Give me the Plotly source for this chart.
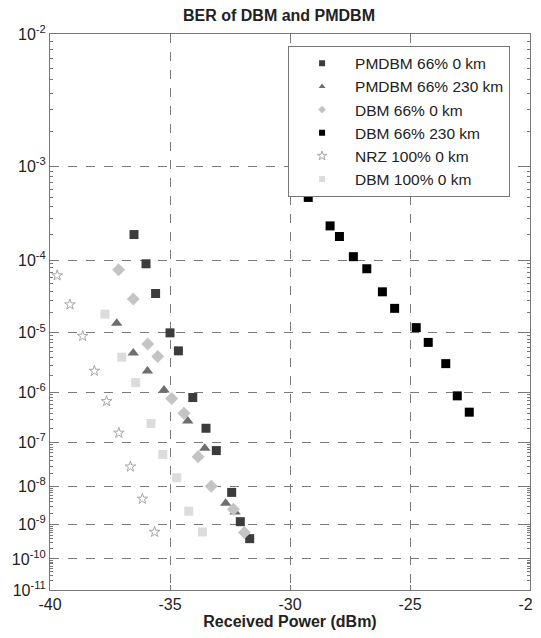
import numpy as np
import plotly.graph_objects as go

# ---- data (received power in dBm, BER) ----
pm66_0_x = [-36.5, -36.0, -35.6, -35.0, -34.65, -34.05, -33.5, -33.07, -32.43, -32.07, -31.68]
pm66_0_y = [2.0e-4, 9.0e-5, 3.7e-5, 1.0e-5, 5.2e-6, 8.0e-7, 2.0e-7, 6.7e-8, 7.0e-9, 1.2e-9, 4.0e-10]

pm66_230_x = [-37.22, -36.53, -35.94, -35.25, -34.26, -33.55, -32.68, -32.29]
pm66_230_y = [1.4e-5, 4.8e-6, 2.4e-6, 1.1e-6, 2.8e-7, 7.5e-8, 3.7e-9, 2.2e-9]

dbm66_0_x = [-37.14, -36.53, -35.93, -35.51, -34.93, -34.42, -33.83, -33.28, -32.36, -31.9]
dbm66_0_y = [7.6e-5, 3.1e-5, 6.7e-6, 4.2e-6, 7.7e-7, 4.0e-7, 4.9e-8, 1.0e-8, 2.6e-9, 6.0e-10]

dbm66_230_x = [-29.24, -28.33, -27.94, -27.36, -26.8, -26.15, -25.64, -24.74, -24.24, -23.51, -23.03, -22.53]
dbm66_230_y = [5.0e-4, 2.5e-4, 1.9e-4, 1.1e-4, 7.8e-5, 3.9e-5, 2.3e-5, 1.2e-5, 7.1e-6, 3.2e-6, 8.6e-7, 4.2e-7]

nrz_x = [-39.7, -39.17, -38.64, -38.15, -37.64, -37.13, -36.65, -36.15, -35.64]
nrz_y = [6.4e-5, 2.6e-5, 8.9e-6, 2.4e-6, 6.8e-7, 1.6e-7, 2.9e-8, 4.8e-9, 6.2e-10]

dbm100_0_x = [-37.71, -37.01, -36.43, -35.79, -35.3, -34.72, -34.22, -33.65]
dbm100_0_y = [1.9e-5, 4.1e-6, 1.5e-6, 2.5e-7, 5.5e-8, 1.6e-8, 2.3e-9, 6.2e-10]

decades = [2, 3, 4, 5, 6, 7, 8, 9, 10, 11]
x_ticks = [-40, -35, -30, -25, -20]


def ber_scale(b):
    """BER axis transform: log10(-log10(BER))"""
    return np.log10(-np.log10(np.asarray(b, dtype=float)))


FONT = "Liberation Sans, Arial, Helvetica, sans-serif"

series = [
    ("PMDBM 66% 0 km", pm66_0_x, pm66_0_y, "square", "#3c3c3c", 9, None),
    ("PMDBM 66% 230 km", pm66_230_x, pm66_230_y, "triangle-up", "#6e6e6e", 10, None),
    ("DBM 66% 0 km", dbm66_0_x, dbm66_0_y, "diamond", "#c4c4c4", 10, None),
    ("DBM 66% 230 km", dbm66_230_x, dbm66_230_y, "square", "#000000", 9, None),
    ("NRZ 100% 0 km", nrz_x, nrz_y, "star-open", "#a8a8a8", 8, 1),
    ("DBM 100% 0 km", dbm100_0_x, dbm100_0_y, "square", "#dcdcdc", 9, None),
]

fig = go.Figure()
for i, (name, xs, ys, sym, col, sz, lw) in enumerate(series):
    line = dict(color=col, width=lw) if lw else dict(width=0)
    fig.add_trace(go.Scatter(
        x=xs, y=ber_scale(ys), mode="markers", name=name, showlegend=False,
        marker=dict(symbol=sym, color=col, size=sz, line=line), legendgroup=f"g{i}",
        customdata=ys, hovertemplate="%{x} dBm, BER %{customdata:.2e}<extra>" + name + "</extra>",
    ))
    # legend entry with a smaller symbol, as in the reference
    fig.add_trace(go.Scatter(
        x=[None], y=[None], mode="markers", name=name, showlegend=True,
        marker=dict(symbol=sym, color=col, size=6 if not lw else 7, line=line), legendgroup=f"g{i}",
    ))

ytickvals = [float(ber_scale(10.0 ** -k)) for k in decades]
yticktext = [f"10<sup>-{k}</sup>" for k in decades]
minor_vals = []
for k in decades[:-1]:
    for m in range(2, 10):
        minor_vals.append(float(ber_scale(m * 10.0 ** -(k + 1))))

grid = dict(showgrid=True, gridcolor="#7a7a7a", griddash="dash", gridwidth=1)

# page body has an 8px margin, so margins are offset by 8px (figure overflows right/bottom edge)
W, H = 541, 638
fig.update_layout(
    width=W, height=H,
    margin=dict(l=42, r=19, t=26, b=56),
    paper_bgcolor="white", plot_bgcolor="white",
    font=dict(family=FONT, size=16, color="#222222"),
    title=dict(text="<b>BER of DBM and PMDBM</b>", x=271 / W, xanchor="center",
               y=1 - 7 / H, yanchor="middle", font=dict(size=16, family=FONT, color="#222222")),
    showlegend=True,
    legend=dict(x=0.496, y=0.979, xanchor="left", yanchor="top",
                bgcolor="white", bordercolor="#777777", borderwidth=1,
                font=dict(size=15.5, family=FONT, color="#222222"),
                traceorder="grouped", tracegroupgap=0, itemwidth=56),
    xaxis=dict(range=[-40, -20], tickvals=x_ticks, ticktext=[str(v) for v in x_ticks],
               ticks="inside", ticklen=5, tickcolor="#777777", automargin=False,
               showline=True, linecolor="#777777", linewidth=1, mirror="ticks",
               zeroline=False, tickfont=dict(size=16), ticklabeloverflow="allow",
               title=dict(text="<b>Received Power (dBm)</b>", font=dict(size=16, family=FONT), standoff=3),
               **grid),
    yaxis=dict(range=[float(ber_scale(1e-11)), float(ber_scale(1e-2))],
               tickvals=ytickvals, ticktext=yticktext, automargin=False,
               ticks="inside", ticklen=5, tickcolor="#777777",
               showline=True, linecolor="#777777", linewidth=1, mirror="ticks",
               zeroline=False, tickfont=dict(size=16),
               minor=dict(tickmode="array", tickvals=minor_vals, ticks="inside",
                          ticklen=3, tickcolor="#777777", showgrid=False),
               **grid),
)

fig.write_html("out.html")
